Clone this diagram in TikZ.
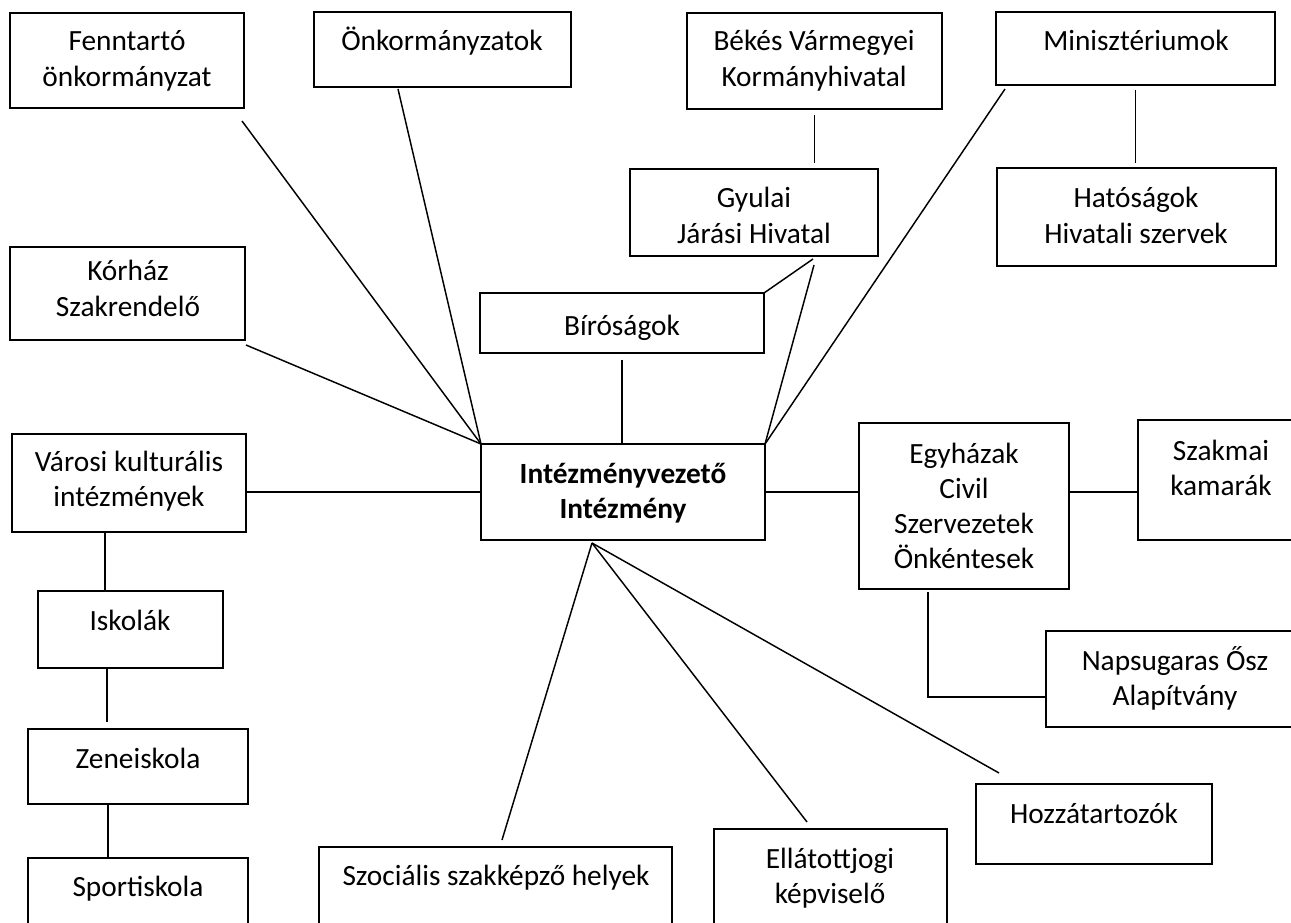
\documentclass[tikz,border=0pt]{standalone}
\usepackage{fontspec}
\setmainfont{Carlito}
\usetikzlibrary{fit}
\newcommand\mylines[1]{\begin{tabular}[t]{@{}c@{}}#1\end{tabular}}
\begin{document}
\begin{tikzpicture}[x=0.75pt,y=-0.75pt,
  box/.style={draw,line width=1.4pt,inner sep=0pt,outer sep=0pt},
  txt/.style={inner sep=0pt,anchor=base,font=\fontsize{22}{26.4}\selectfont},
  conn/.style={line width=1.1pt}]
\useasboundingbox (0,0) rectangle (1291,923);
% boxes
\node[box,fit={(10,13) (244,108)}] (fenn) {};
\node[box,fit={(314,12) (571,87)}] (onk) {};
\node[box,fit={(687,13) (942,109)}] (bekes) {};
\node[box,fit={(996,12) (1275,85)}] (minis) {};
\node[box,fit={(630,169) (878,256)}] (gyulai) {};
\node[box,fit={(997,168) (1276,266)}] (hat) {};
\node[box,fit={(10,247) (245,340)}] (korhaz) {};
\node[box,fit={(480,293) (764,353)}] (biro) {};
\node[box,fit={(12,434) (246,532)}] (varosi) {};
\node[box,fit={(481,444) (765,540)}] (intez) {};
\node[box,fit={(859,423) (1069,589)}] (egyh) {};
\node[box,fit={(1138,420) (1310,540)}] (szakmai) {};
\node[box,fit={(1046,631) (1310,727)}] (napsu) {};
\node[box,fit={(38,591) (223,668)}] (isk) {};
\node[box,fit={(28,729) (248,804)}] (zene) {};
\node[box,fit={(28,858) (248,940)}] (sport) {};
\node[box,fit={(319,847) (672,940)}] (szoc) {};
\node[box,fit={(714,829) (947,940)}] (ella) {};
\node[box,fit={(976,784) (1212,864)}] (hozza) {};
% texts
\node[txt] (fennT) at (127,51) {\mylines{Fenntartó\\önkormányzat}};
\node[txt] (onkT) at (442,51) {Önkormányzatok};
\node[txt] (bekesT) at (814,51) {\mylines{Békés Vármegyei\\Kormányhivatal}};
\node[txt] (minisT) at (1136,51) {Minisztériumok};
\node[txt] (gyulaiT) at (754,208) {\mylines{Gyulai\\Járási Hivatal}};
\node[txt] (hatT) at (1136,208) {\mylines{Hatóságok\\Hivatali szervek}};
\node[txt] (korhazT) at (128,281) {\mylines{Kórház\\Szakrendelő}};
\node[txt] (biroT) at (622,335) {Bíróságok};
\node[txt] (varosiT) at (129,471) {\mylines{Városi kulturális\\intézmények}};
\node[txt] (intezT) at (623,483) {\bfseries\mylines{Intézményvezető\\Intézmény}};
\node[txt] (egyhT) at (964,463) {\mylines{Egyházak\\Civil\\Szervezetek\\Önkéntesek}};
\node[txt] (szakmaiT) at (1221,460) {\mylines{Szakmai\\kamarák}};
\node[txt] (napsuT) at (1175,670) {\mylines{Napsugaras Ősz\\Alapítvány}};
\node[txt] (iskT) at (130,630) {Iskolák};
\node[txt] (zeneT) at (138,768) {Zeneiskola};
\node[txt] (sportT) at (138,896) {Sportiskola};
\node[txt] (szocT) at (496,885) {Szociális szakképző helyek};
\node[txt] (ellaT) at (830,868) {\mylines{Ellátottjogi\\képviselő}};
\node[txt] (hozzaT) at (1094,823) {Hozzátartozók};
% connector end points
\coordinate (fennA) at (242,121);
\coordinate (onkA) at (398,89);
\coordinate (korA) at (246,345);
\coordinate (gyA) at (813,259);
\coordinate (gyB) at (814,265);
\coordinate (minA) at (1005,89);
\coordinate (intB) at (592,543);
\coordinate (szocA) at (502,840);
\coordinate (ellaA) at (807,822);
\coordinate (hozA) at (999,773);
\coordinate (egA) at (928,592);
\coordinate (egB) at (928,697);
\coordinate (vA) at (105,532);
\coordinate (iA) at (107,668);
\coordinate (zA) at (108,804);
% connectors
\draw[conn] (fennA) -- (intez.north west);
\draw[conn] (onkA) -- (intez.north west);
\draw[conn] (korA) -- (intez.north west);
\draw[conn] (varosi.east |- intez.west) -- (intez.west);
\draw[conn,shorten <=5pt] (biro.south) -- (biro.south |- intez.north);
\draw[conn] (gyA) -- (biro.north east);
\draw[conn] (gyB) -- (intez.north east);
\draw[conn] (minA) -- (intez.north east);
\draw[conn,shorten <=4.5pt,shorten >=4.5pt] (bekes.south) -- (bekes.south |- gyulai.north);
\draw[conn,shorten <=4pt,shorten >=4pt] (minis.south) -- (minis.south |- hat.north);
\draw[conn] (intez.east) -- (intez.east -| egyh.west);
\draw[conn] (egyh.east |- intez.east) -- (szakmai.west |- intez.east);
\draw[conn] (egA) -- (egB) -- (egB -| napsu.west);
\draw[conn] (vA) -- (vA |- isk.north);
\draw[conn,shorten >=5pt] (iA) -- (iA |- zene.north);
\draw[conn] (zA) -- (zA |- sport.north);
\draw[conn] (intB) -- (szocA);
\draw[conn] (intB) -- (ellaA);
\draw[conn] (intB) -- (hozA);
\end{tikzpicture}
\end{document}
